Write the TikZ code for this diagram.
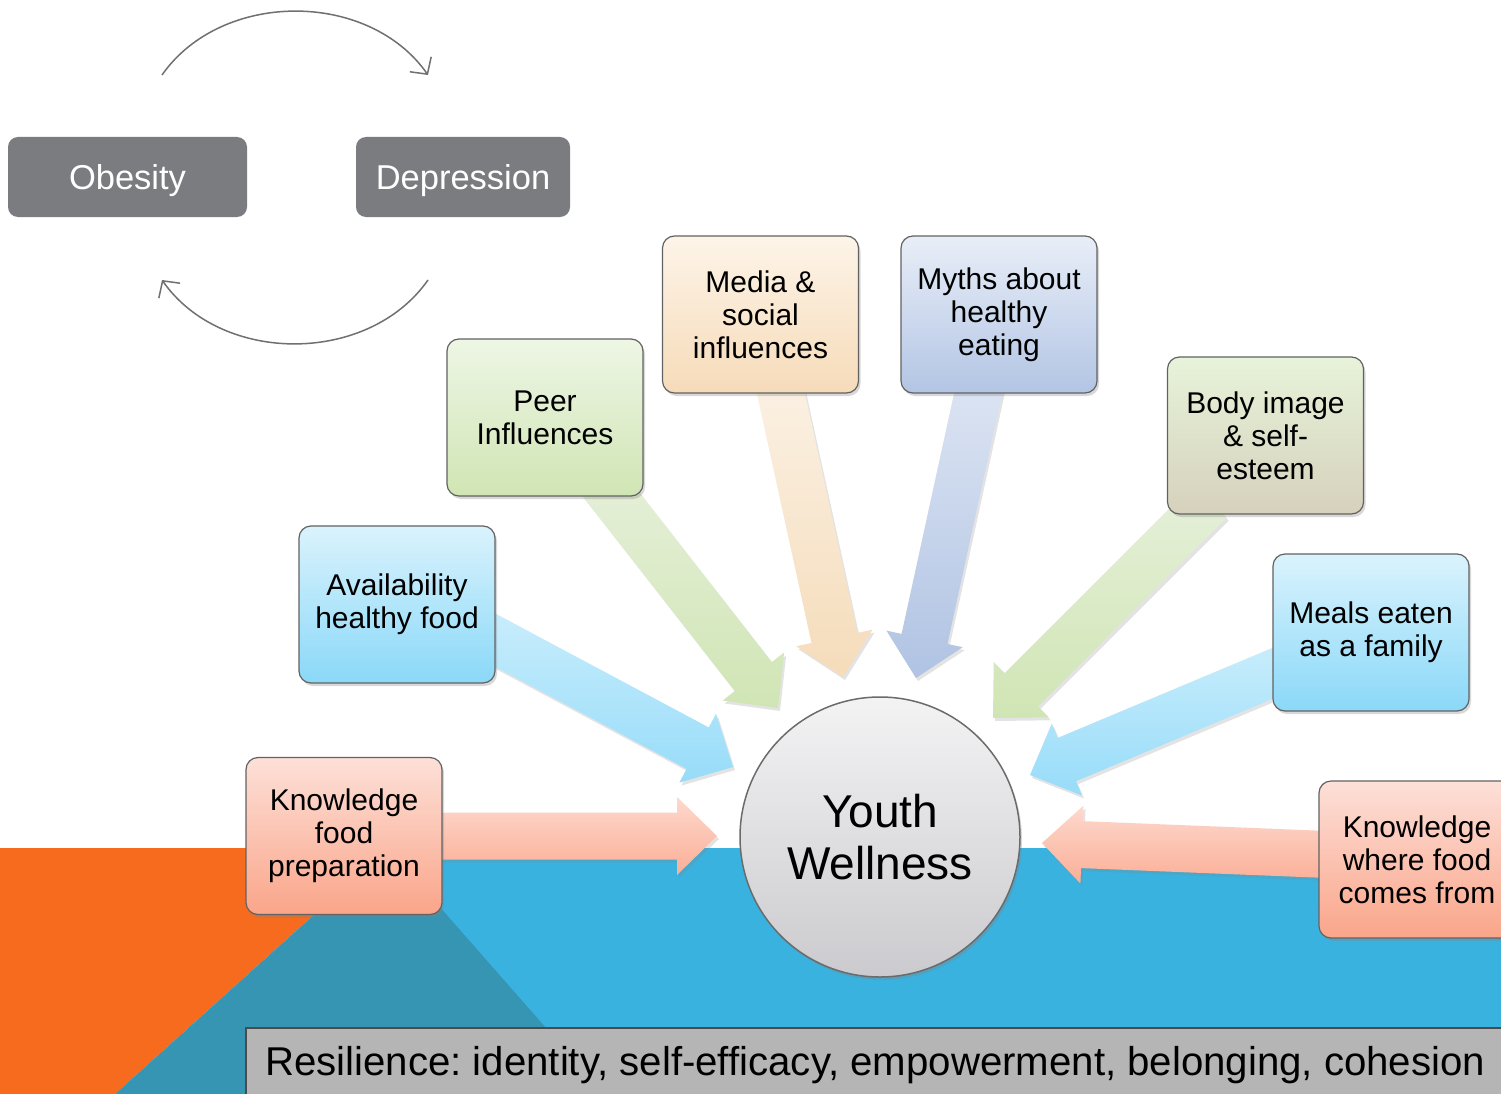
\documentclass[tikz,border=0pt]{standalone}
\usepackage{fontspec}
\setmainfont{Liberation Sans}
\usetikzlibrary{calc,shadows,arrows.meta}

\pgfdeclarelayer{back}
\pgfdeclarelayer{links}
\pgfsetlayers{back,links,main}

\definecolor{bandblue}{HTML}{3AB2DF}
\definecolor{bandorange}{HTML}{F76B1E}
\definecolor{bandteal}{HTML}{3795B4}
\definecolor{barfill}{HTML}{B5B5B5}
\definecolor{barline}{HTML}{4A4A4A}
\definecolor{condgray}{HTML}{7B7C80}
\definecolor{arcgray}{HTML}{707070}
\definecolor{boxline}{HTML}{626262}
% box gradients
\definecolor{greenT}{HTML}{EEF6E5}\definecolor{greenB}{HTML}{D0E5B4}
\definecolor{peachT}{HTML}{FDF4E8}\definecolor{peachB}{HTML}{F6DBB9}
\definecolor{lavT}{HTML}{E8EEF8}\definecolor{lavB}{HTML}{B3C5E4}
\definecolor{bodyT}{HTML}{E7F3DA}\definecolor{bodyB}{HTML}{D6D1BC}
\definecolor{skyT}{HTML}{DAF3FD}\definecolor{skyB}{HTML}{8AD8F8}
\definecolor{salT}{HTML}{FDE0D8}\definecolor{salB}{HTML}{FAA58A}
% arrow gradients
\definecolor{agreenT}{HTML}{E6F0DA}\definecolor{agreenB}{HTML}{D0E5B4}
\definecolor{apeachT}{HTML}{FBF1E4}\definecolor{apeachB}{HTML}{F5DCBA}
\definecolor{alavT}{HTML}{DDE5F3}\definecolor{alavB}{HTML}{B0C3E3}
\definecolor{askyT}{HTML}{C8EDFC}\definecolor{askyB}{HTML}{97DCF9}
\definecolor{asalT}{HTML}{FDD9CE}\definecolor{asalB}{HTML}{FBAE96}
\definecolor{discT}{HTML}{F3F3F4}\definecolor{discB}{HTML}{CBCBCF}
\definecolor{discline}{HTML}{6B6B6B}

\tikzset{
  factor/.style={rounded corners=12pt, draw=boxline, line width=1.2pt,
    minimum width=196pt, minimum height=157pt, align=center, inner sep=4pt,
    font=\fontsize{30}{33}\selectfont,
    drop shadow={shadow xshift=2pt, shadow yshift=-3pt, opacity=.3}},
  cond/.style={rounded corners=10pt, fill=condgray, text=white,
    minimum height=80pt, inner sep=0pt, text depth=0pt,
    font=\fontsize{34.5}{40}\selectfont},
  link/.style={drop shadow={shadow xshift=2pt, shadow yshift=-3pt, opacity=.22}},
  cyclearc/.style={draw=arcgray, line width=1.5pt,
    -{Straight Barb[length=12pt, width=26pt]}},
}

% block arrow from #1 to tip #2, shaded from #3 (top) to #4 (bottom)
\newcommand{\fatarrow}[4]{%
  \coordinate (hb) at ($(#2)!40pt!(#1)$);
  \path[link, top color=#3, bottom color=#4]
    ($(#1)!23.5pt!90:(#2)$) -- ($(hb)!23.5pt!90:(#2)$) -- ($(hb)!39pt!90:(#2)$)
    -- (#2)
    -- ($(hb)!39pt!-90:(#2)$) -- ($(hb)!23.5pt!-90:(#2)$) -- ($(#1)!23.5pt!-90:(#2)$)
    -- cycle;}

\begin{document}
\frenchspacing
\begin{tikzpicture}[x=1pt, y=-1pt]
\useasboundingbox (0,0) rectangle (1501,1094);
\clip (0,0) rectangle (1501,1094);

% ---------- backdrop ----------
\begin{pgfonlayer}{back}
  \fill[white] (0,0) rectangle (1501,1094);
  \fill[bandblue] (380,848) rectangle (1501,1094);
  \fill[bandorange] (0,848) -- (388,848) -- (115,1094) -- (0,1094) -- cycle;
  \fill[bandteal] (388,848) -- (115,1094) -- (604,1094) -- cycle;
\end{pgfonlayer}

% resilience bar
\node[draw=barline, line width=2pt, fill=barfill, minimum width=1280pt,
      minimum height=90pt, anchor=north west, inner sep=0pt]
      (bar) at (245,1027) {};
\node[anchor=west, font=\fontsize{40.2}{48}\selectfont, inner sep=0pt]
      (barText) at (265,1065)
      {Resilience: identity, self-efficacy, empowerment, belonging, cohesion};

% ---------- obesity / depression cycle ----------
\node[cond, minimum width=239pt] (obesity) at (127.5,177) {Obesity};
\node[cond, minimum width=214pt] (depression) at (463,177) {Depression};
\coordinate (arcA) at (162,75);
\coordinate (arcB) at (428,75);
\coordinate (arcC) at (428,280);
\coordinate (arcD) at (162,280);
\draw[cyclearc] (arcA) to[bend left=55] (arcB);
\draw[cyclearc] (arcC) to[bend left=55] (arcD);

% ---------- factor boxes ----------
\node[factor, top color=greenT, bottom color=greenB] (peer) at (545,417.5) {Peer\\Influences};
\node[factor, top color=peachT, bottom color=peachB] (media) at (760.5,314.5) {Media \&\\social\\influences};
\node[factor, top color=lavT, bottom color=lavB] (myths) at (999,314.5) {Myths about\\healthy\\eating};
\node[factor, top color=bodyT, bottom color=bodyB] (body) at (1265.5,435.5) {Body image\\\& self-\\esteem};
\node[factor, top color=skyT, bottom color=skyB] (avail) at (397,604.5) {Availability\\healthy food};
\node[factor, top color=skyT, bottom color=skyB] (meals) at (1371,632.5) {Meals eaten\\as a family};
\node[factor, top color=salT, bottom color=salB] (kprep) at (344,836) {Knowledge\\food\\preparation};
\node[factor, top color=salT, bottom color=salB] (kwhere) at (1417,859.5) {Knowledge\\where food\\comes from};

% ---------- centre ----------
\node[circle, minimum size=280pt, inner sep=0pt, draw=discline, line width=1.5pt,
      top color=discT, bottom color=discB, align=center,
      font=\fontsize{46}{52}\selectfont,
      drop shadow={shadow xshift=2pt, shadow yshift=-3pt, opacity=.3}]
      (youth) at (880,837) {Youth\\Wellness};

% ---------- arrows into the centre ----------
\coordinate (s-peer) at (600,480);   \coordinate (t-peer) at (778,708);
\coordinate (s-media) at (778,380);  \coordinate (t-media) at (843,677);
\coordinate (s-myths) at (981,380);  \coordinate (t-myths) at (916,678);
\coordinate (s-body) at (1210,501);  \coordinate (t-body) at (993,718);
\coordinate (s-avail) at (480,632);  \coordinate (t-avail) at (733,767);
\coordinate (s-meals) at (1290,666); \coordinate (t-meals) at (1030,775);
\coordinate (s-kprep) at (420,836);  \coordinate (t-kprep) at (717,836);
\coordinate (s-kwhere) at (1340,855);\coordinate (t-kwhere) at (1042,843);

\begin{pgfonlayer}{links}
  \fatarrow{s-peer}{t-peer}{agreenT}{agreenB}
  \fatarrow{s-media}{t-media}{apeachT}{apeachB}
  \fatarrow{s-myths}{t-myths}{alavT}{alavB}
  \fatarrow{s-body}{t-body}{agreenT}{agreenB}
  \fatarrow{s-avail}{t-avail}{askyT}{askyB}
  \fatarrow{s-meals}{t-meals}{askyT}{askyB}
  \fatarrow{s-kprep}{t-kprep}{asalT}{asalB}
  \fatarrow{s-kwhere}{t-kwhere}{asalT}{asalB}
\end{pgfonlayer}
\end{tikzpicture}
\end{document}
